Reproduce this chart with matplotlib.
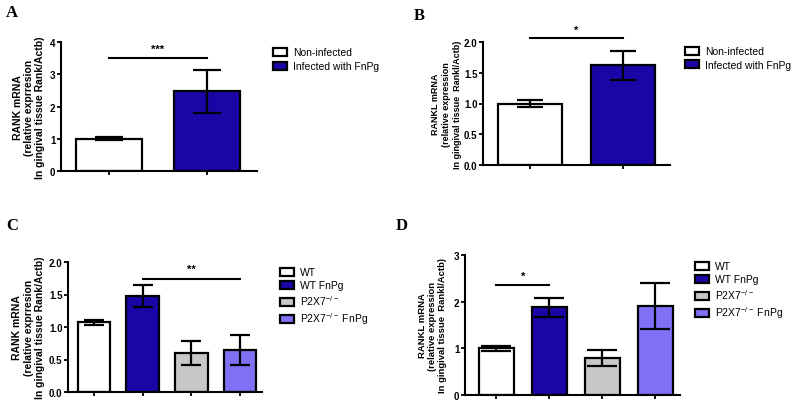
import matplotlib.pyplot as plt
from matplotlib.patches import Patch

plt.rcParams['font.family'] = ['Liberation Sans', 'DejaVu Sans']
plt.rcParams['mathtext.fontset'] = 'custom'
plt.rcParams['mathtext.rm'] = 'Liberation Sans'

W, H = 791, 402

# panel A / B: two groups
groups_ab = ['Non-infected', 'Infected with FnPg']
rank_a = [1.0, 2.47]
rank_a_err = [0.05, 0.67]
rankl_b = [1.0, 1.62]
rankl_b_err = [0.06, 0.24]

# panel C / D: four groups
groups_cd = ['WT', 'WT FnPg', 'P2X7$^{-/-}$', 'P2X7$^{-/-}$ FnPg']
rank_c = [1.07, 1.48, 0.60, 0.64]
rank_c_err = [0.04, 0.17, 0.19, 0.23]
rankl_d = [1.0, 1.88, 0.80, 1.90]
rankl_d_err = [0.06, 0.20, 0.17, 0.49]

col_ab = ['white', '#1a06a6']
col_cd = ['white', '#1a06a6', '#c8c8c8', '#7f70f5']


def add_ax(x0, x1, ytop, ybot):
    return plt.gcf().add_axes([x0 / W, 1 - ybot / H, (x1 - x0) / W, (ybot - ytop) / H])


def panel(ax, vals, errs, colors, xlim, ylim, yticks, fmt, width, capsize,
          ylabel, lab_size, lab_x, lab_sp):
    x = list(range(len(vals)))
    ax.bar(x, vals, width=width, color=colors, edgecolor='black', linewidth=1.6, zorder=2)
    ax.errorbar(x, vals, yerr=errs, fmt='none', ecolor='black', elinewidth=1.6,
                capsize=capsize, capthick=1.6, zorder=3)
    ax.set_xlim(*xlim)
    ax.set_ylim(*ylim)
    ax.set_xticks(x)
    ax.set_xticklabels([])
    ax.set_yticks(yticks)
    ax.set_yticklabels([fmt.format(v) for v in yticks], fontweight='bold', fontsize=7)
    for s in ['top', 'right']:
        ax.spines[s].set_visible(False)
    for s in ['left', 'bottom']:
        ax.spines[s].set_linewidth(1.5)
    ax.tick_params(width=1.3, length=3, pad=1)
    ax.set_ylabel(ylabel, fontweight='bold', fontsize=lab_size, linespacing=lab_sp)
    ax.yaxis.set_label_coords(lab_x, 0.5)


def sig(ax, x0, x1, y, ytext, label):
    ax.plot([x0, x1], [y, y], color='black', lw=1.5, clip_on=False)
    ax.text((x0 + x1) / 2, ytext, label, ha='center', va='center', fontsize=8,
            fontweight='bold')


def legend(labels, colors, x, y, spacing):
    handles = [Patch(facecolor=c, edgecolor='black', linewidth=1.6) for c in colors]
    plt.gcf().legend(handles, labels, loc='upper left', bbox_to_anchor=(x / W, 1 - y / H),
                     frameon=False, fontsize=7.5, handlelength=1.3, handleheight=0.8,
                     handletextpad=0.6, labelspacing=spacing, borderpad=0)


fig = plt.figure(figsize=(W / 100, H / 100), dpi=100)

# A
ax = add_ax(61, 257, 43, 172)
panel(ax, rank_a, rank_a_err, col_ab, (-0.49, 1.51), (0, 4), [0, 1, 2, 3, 4], '{:g}',
      0.67, 10, 'RANK mRNA\n(relative exprresion\nIn gingival tissue Rank/Actb)',
      7.5, -0.08, 1.15)
sig(ax, 0, 1, 3.5, 3.8, '***')
legend(groups_ab, col_ab, 268, 43, 0.4)

# B
ax = add_ax(483, 670, 43, 166)
panel(ax, rankl_b, rankl_b_err, col_ab, (-0.505, 1.505), (0, 2), [0, 0.5, 1.0, 1.5, 2.0],
      '{:.1f}', 0.68, 9.5, 'RANKL mRNA\n(relative expression\nIn gingival tissue  Rankl/Actb)',
      6.5, -0.11, 1.35)
sig(ax, 0, 1, 2.07, 2.2, '*')
legend(groups_ab, col_ab, 680, 42, 0.35)

# C
ax = add_ax(68, 262, 263, 393)
panel(ax, rank_c, rank_c_err, col_cd, (-0.53, 3.45), (0, 2), [0, 0.5, 1.0, 1.5, 2.0],
      '{:.1f}', 0.67, 7.5, 'RANK mRNA\n(relative exprresion\nIn gingival tissue Rank/Actb)',
      7.5, -0.12, 1.15)
sig(ax, 1, 3, 1.74, 1.9, '**')
legend(groups_cd, col_cd, 275, 263, 0.3)

# D
ax = add_ax(465, 680, 256, 396)
panel(ax, rankl_d, rankl_d_err, col_cd, (-0.59, 3.47), (0, 3), [0, 1, 2, 3], '{:g}',
      0.66, 10.5, 'RANKL mRNA\n(relative expression\nIn gingival tissue  Rankl/Actb)',
      6.8, -0.085, 1.1)
sig(ax, 0, 1, 2.36, 2.56, '*')
legend(groups_cd, col_cd, 690, 257, 0.3)

for lab, x, y in [('A', 6, 17), ('B', 414, 20), ('C', 6, 230), ('D', 396, 230)]:
    fig.text(x / W, 1 - y / H, lab, family='Liberation Serif', fontweight='bold', fontsize=12)

fig.savefig('out.png', dpi=100)
